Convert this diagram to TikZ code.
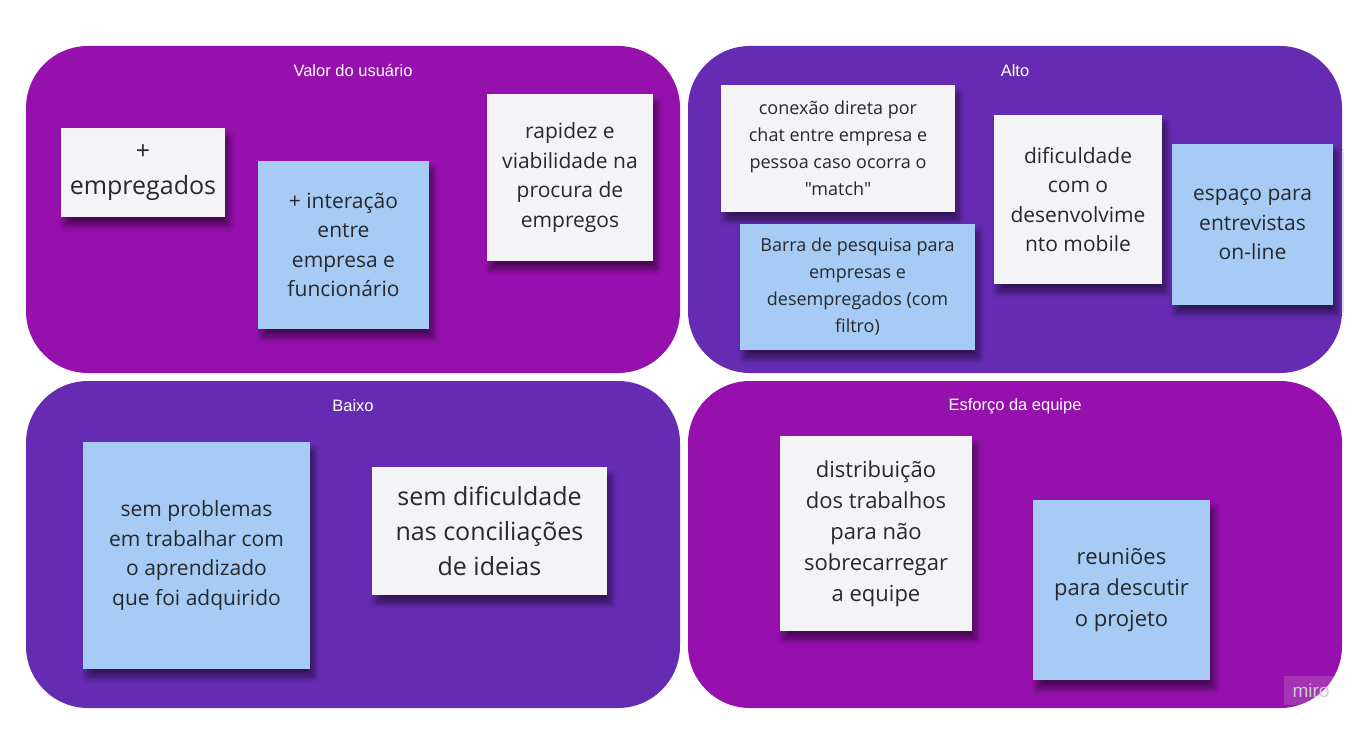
\documentclass[tikz,border=0pt]{standalone}
\usepackage{fontspec}
\setmainfont{Open Sans}[Ligatures=TeXOff]
\newfontfamily\titlefont{Liberation Sans}
\usetikzlibrary{shadows.blur}
\definecolor{mag}{RGB}{149,16,172}
\definecolor{pur}{RGB}{101,44,179}
\definecolor{notew}{RGB}{244,244,247}
\definecolor{noteb}{RGB}{166,204,245}
\definecolor{txt}{RGB}{40,40,44}
\begin{document}
\begin{tikzpicture}[x=1pt,y=-1pt,
  panel/.style={rounded corners=62pt, inner sep=0pt, minimum width=654pt, minimum height=327pt},
  ptitle/.style={text=white, font=\titlefont\fontsize{16.5}{18}\selectfont},
  note/.style={align=center, text=txt, inner sep=0pt,
    blur shadow={shadow xshift=4pt, shadow yshift=-8pt, shadow opacity=50, shadow blur steps=8, shadow blur radius=6pt}},
  wnote/.style={note, fill=notew},
  bnote/.style={note, fill=noteb},
  fa/.style={font=\fontsize{18}{27}\selectfont},
  fb/.style={font=\fontsize{21}{29.5}\selectfont},
  fc/.style={font=\fontsize{22}{31}\selectfont},
  fd/.style={font=\fontsize{25}{35}\selectfont}]
\useasboundingbox[fill=white] (0,0) rectangle (1368,730);
% panels
\node[panel, fill=mag] (p1) at (353,209.5) {};
\node[panel, fill=pur] (p2) at (1015,209.5) {};
\node[panel, fill=pur] (p3) at (353,544.5) {};
\node[panel, fill=mag] (p4) at (1015,544.5) {};
\node[ptitle] (t1) at (353,71) {Valor do usuário};
\node[ptitle] (t2) at (1015,71) {Alto};
\node[ptitle] (t3) at (353,406) {Baixo};
\node[ptitle] (t4) at (1015,406) {Esforço da equipe};
% notes
\node[wnote, fd, minimum width=164pt, minimum height=89pt] (n1) at (143,173) {+\\empregados};
\node[bnote, fb, minimum width=171pt, minimum height=168pt] (n2) at (343.5,245) {+ interação\\entre\\empresa e\\funcionário};
\node[wnote, fb, minimum width=166pt, minimum height=167pt] (n3) at (570,177.5) {rapidez e\\viabilidade na\\procura de\\empregos};
\node[wnote, fa, minimum width=234pt, minimum height=127pt] (n4) at (838,148.5) {conexão direta por\\chat entre empresa e\\pessoa caso ocorra o\\"match"};
\node[bnote, fa, minimum width=235pt, minimum height=126pt] (n5) at (857.5,287) {Barra de pesquisa para\\empresas e\\desempregados (com\\filtro)};
\node[wnote, fb, minimum width=168pt, minimum height=169pt] (n6) at (1078,199.5) {dificuldade\\com o\\desenvolvime\\nto mobile};
\node[bnote, fb, minimum width=161pt, minimum height=161pt] (n7) at (1252.5,224.5) {espaço para\\entrevistas\\on-line};
\node[bnote, fb, minimum width=227pt, minimum height=227pt] (n8) at (196.5,555.5) {sem problemas\\em trabalhar com\\o aprendizado\\que foi adquirido};
\node[wnote, fd, minimum width=235pt, minimum height=128pt] (n9) at (489.5,531) {sem dificuldade\\nas conciliações\\de ideias};
\node[wnote, fc, minimum width=192pt, minimum height=195pt] (n10) at (876,533.5) {distribuição\\dos trabalhos\\para não\\sobrecarregar\\a equipe};
\node[bnote, fc, minimum width=177pt, minimum height=180pt] (n11) at (1121.5,590) {reuniões\\para descutir\\o projeto};
% miro watermark
\node[fill=white, fill opacity=0.15, text opacity=1, text=black!20, inner sep=0pt, minimum width=54pt, minimum height=29pt,
  font=\titlefont\fontsize{19}{20}\selectfont] (logo) at (1311,690.5) {miro};
\end{tikzpicture}
\end{document}
